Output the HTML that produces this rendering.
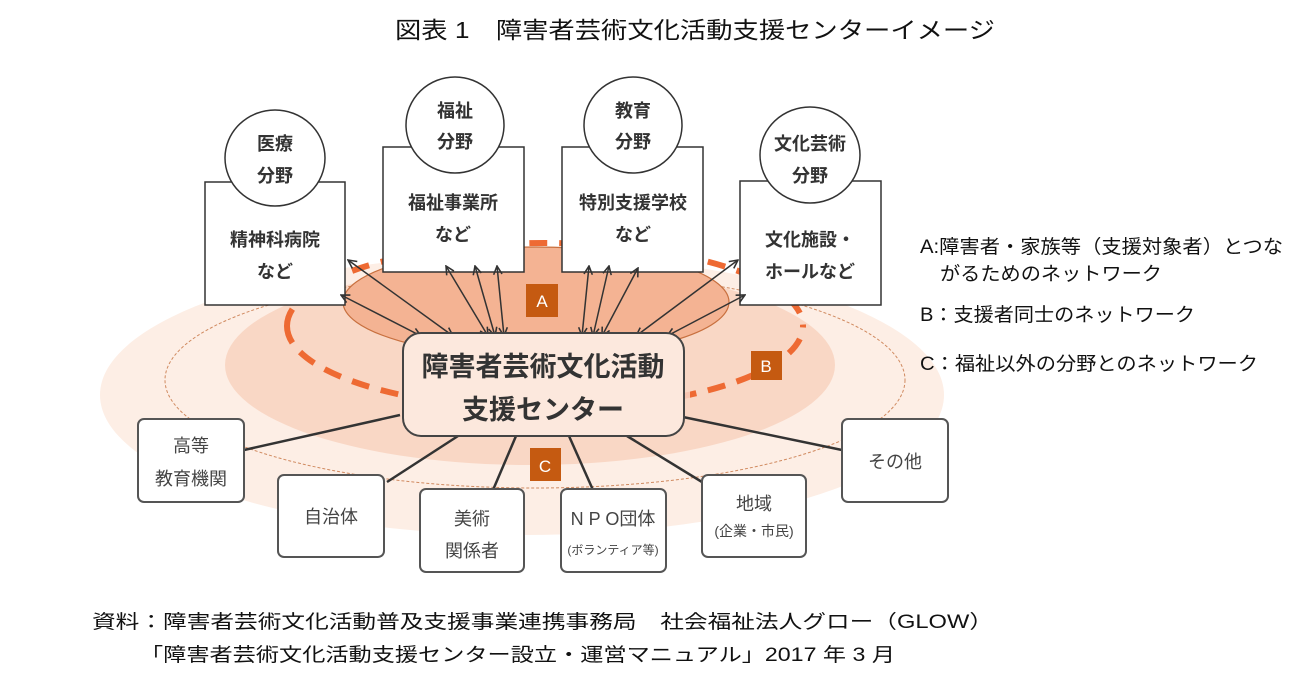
<!DOCTYPE html>
<html><head><meta charset="utf-8"><style>
body{margin:0;background:#fff;}
svg{display:block;font-family:"Liberation Sans","Noto Sans CJK JP",sans-serif;}
.b{font-weight:bold;fill:#333;}
</style></head><body>
<svg width="1312" height="691" viewBox="0 0 1312 691" xmlns="http://www.w3.org/2000/svg">
<defs>
<marker id="ah" viewBox="0 0 10 10" refX="9" refY="5" markerWidth="7" markerHeight="7" orient="auto-start-reverse"><path d="M1,1 L9,5 L1,9" fill="none" stroke="#333" stroke-width="1.5"/></marker>
<clipPath id="sides"><rect x="0" y="0" width="400" height="691"/><rect x="690" y="0" width="400" height="691"/></clipPath>
</defs>
<text x="395" y="38" font-size="23" fill="#111" textLength="600" lengthAdjust="spacingAndGlyphs">図表 1　障害者芸術文化活動支援センターイメージ</text>

<ellipse cx="522" cy="395" rx="422" ry="140" fill="#fdeee5"/>
<ellipse cx="530" cy="365" rx="305" ry="100" fill="#f9d7c5"/>
<ellipse cx="535" cy="380" rx="370" ry="108" fill="none" stroke="#d08a60" stroke-width="1" stroke-dasharray="3,2"/>
<ellipse cx="536" cy="302" rx="193" ry="55" fill="#f4b393" stroke="#c8703f" stroke-width="1.2"/>
<path d="M287,326 A258,83 0 0 1 803,326" fill="none" stroke="#ee6a33" stroke-width="6" stroke-dasharray="18,12"/>
<path d="M287,326 A258,83 0 0 0 803,326" fill="none" stroke="#f6c4b0" stroke-width="6" stroke-dasharray="18,12"/>
<path d="M287,326 A258,83 0 0 0 803,326" fill="none" stroke="#ee6a33" stroke-width="6" stroke-dasharray="18,12" clip-path="url(#sides)"/>

<g stroke="#333" stroke-width="1.5" fill="#fff">
<rect x="205" y="182" width="140" height="123"/>
<ellipse cx="275" cy="158" rx="50" ry="48"/>
<rect x="383" y="147" width="141" height="125"/>
<ellipse cx="455" cy="125" rx="49" ry="48"/>
<rect x="562" y="147" width="141" height="125"/>
<ellipse cx="633" cy="125" rx="49" ry="48"/>
<rect x="740" y="181" width="141" height="124"/>
<ellipse cx="810" cy="155" rx="50" ry="48"/>
</g>
<g font-size="18" text-anchor="middle" class="b">
<text x="275" y="150">医療</text><text x="275" y="182">分野</text>
<text x="275" y="246">精神科病院</text><text x="275" y="278">など</text>
<text x="455" y="117">福祉</text><text x="455" y="148">分野</text>
<text x="453" y="209">福祉事業所</text><text x="453" y="241">など</text>
<text x="633" y="117">教育</text><text x="633" y="148">分野</text>
<text x="633" y="209">特別支援学校</text><text x="633" y="241">など</text>
<text x="810" y="150">文化芸術</text><text x="810" y="182">分野</text>
<text x="810" y="246">文化施設・</text><text x="810" y="278">ホールなど</text>
</g>

<g stroke="#333" stroke-width="1.5" marker-start="url(#ah)" marker-end="url(#ah)">
<line x1="348" y1="260" x2="453" y2="336"/>
<line x1="341" y1="295" x2="421" y2="336"/>
<line x1="446" y1="266" x2="488" y2="336"/>
<line x1="475" y1="266" x2="495" y2="336"/>
<line x1="497" y1="266" x2="504" y2="336"/>
<line x1="589" y1="266" x2="582" y2="336"/>
<line x1="609" y1="266" x2="593" y2="336"/>
<line x1="638" y1="268" x2="602" y2="336"/>
<line x1="738" y1="260" x2="636" y2="336"/>
<line x1="745" y1="295" x2="667" y2="336"/>
</g>

<g stroke="#333" stroke-width="2.5">
<line x1="400" y1="415" x2="244" y2="450"/>
<line x1="458" y1="436" x2="387" y2="482"/>
<line x1="516" y1="436" x2="493" y2="490"/>
<line x1="569" y1="436" x2="593" y2="490"/>
<line x1="627" y1="436" x2="702" y2="482"/>
<line x1="683" y1="417" x2="842" y2="450"/>
</g>

<rect x="403" y="333" width="281" height="103" rx="18" fill="#fce8dd" stroke="#444" stroke-width="2"/>
<text x="543" y="376" font-size="27" text-anchor="middle" class="b">障害者芸術文化活動</text>
<text x="543" y="419" font-size="27" text-anchor="middle" class="b">支援センター</text>

<g fill="#c55a11"><rect x="526" y="284" width="32" height="33"/><rect x="751" y="351" width="31" height="29"/><rect x="530" y="448" width="31" height="33"/></g>
<g fill="#fff" font-size="17" text-anchor="middle"><text x="542" y="307">A</text><text x="766" y="372">B</text><text x="545" y="472">C</text></g>

<g fill="#fff" stroke="#555" stroke-width="2">
<rect x="138" y="419" width="106" height="83" rx="6"/>
<rect x="278" y="475" width="106" height="82" rx="6"/>
<rect x="420" y="489" width="104" height="83" rx="6"/>
<rect x="561" y="489" width="105" height="83" rx="6"/>
<rect x="702" y="475" width="104" height="82" rx="6"/>
<rect x="842" y="419" width="106" height="83" rx="6"/>
</g>
<g font-size="18" text-anchor="middle" fill="#444">
<text x="191" y="452">高等</text><text x="191" y="485">教育機関</text>
<text x="331" y="523">自治体</text>
<text x="472" y="525">美術</text><text x="472" y="557">関係者</text>
<text x="613" y="525">N P O団体</text><text x="613" y="554" font-size="12">(ボランティア等)</text>
<text x="754" y="510">地域</text><text x="754" y="536" font-size="14">(企業・市民)</text>
<text x="895" y="468">その他</text>
</g>

<g font-size="19" fill="#111">
<text x="920" y="253" textLength="363" lengthAdjust="spacingAndGlyphs">A:障害者・家族等（支援対象者）とつな</text>
<text x="940" y="280" textLength="222" lengthAdjust="spacingAndGlyphs">がるためのネットワーク</text>
<text x="920" y="321" textLength="275" lengthAdjust="spacingAndGlyphs">B：支援者同士のネットワーク</text>
<text x="920" y="370" textLength="338" lengthAdjust="spacingAndGlyphs">C：福祉以外の分野とのネットワーク</text>
</g>
<g font-size="19" fill="#111">
<text x="92" y="628" textLength="901" lengthAdjust="spacingAndGlyphs">資料：障害者芸術文化活動普及支援事業連携事務局　社会福祉法人グロー（GLOW）</text>
<text x="140" y="661" textLength="755" lengthAdjust="spacingAndGlyphs">「障害者芸術文化活動支援センター設立・運営マニュアル」2017 年 3 月</text>
</g>
</svg>
</body></html>
